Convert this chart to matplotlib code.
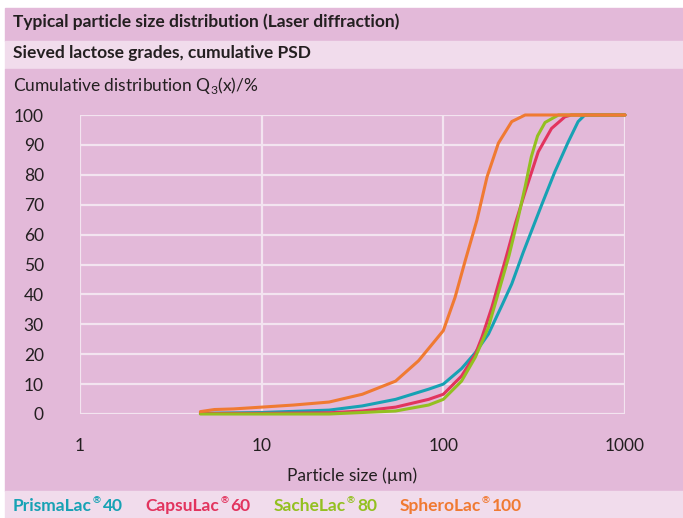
import matplotlib.pyplot as plt
from matplotlib.patches import Rectangle

plt.rcParams['font.family'] = ['Lato', 'DejaVu Sans']
plt.rcParams['mathtext.fontset'] = 'custom'
plt.rcParams['mathtext.rm'] = 'Lato'
plt.rcParams['mathtext.bf'] = 'Lato:bold'

# data (particle size in um, cumulative %)
prisma_x = [4.6, 10, 23.5, 35.8, 54.6, 83, 100, 126, 150, 177, 210, 238, 275, 347, 411, 487, 552, 601, 1000]
prisma_y = [0.2, 0.5, 1.3, 2.7, 4.9, 8.3, 10, 15.2, 20.5, 26.7, 36.3, 43.5, 54, 69.8, 81, 91, 97.8, 100, 100]

capsu_x = [4.6, 10, 23.5, 35.8, 54.6, 83, 100, 126, 150, 163, 185, 201, 219, 250, 282, 333, 394, 467, 506, 1000]
capsu_y = [0.2, 0.2, 0.4, 1.0, 2.3, 4.9, 6.6, 12.7, 20, 25.6, 35.7, 43.5, 51.3, 64, 74.3, 87.7, 95.5, 99.4, 100, 100]

sache_x = [4.6, 10, 23.5, 54.6, 83, 100, 126, 150, 177, 205, 230, 259, 282, 305, 330, 363, 430, 1000]
sache_y = [0, 0, 0, 1.0, 3, 4.9, 11, 19, 29, 42.4, 53, 66, 76, 86, 93, 97.5, 100, 100]

sphero_x = [4.6, 5.5, 7, 10, 15, 23.5, 35.8, 54.6, 73, 90, 100, 116, 132, 153, 174, 201, 238, 282, 1000]
sphero_y = [0.8, 1.5, 1.7, 2.3, 3, 4.0, 6.6, 11, 17.8, 24.5, 27.9, 39, 51.3, 64.8, 79.3, 90.6, 97.8, 100, 100]

names = ['PrismaLac', 'CapsuLac', 'SacheLac', 'SpheroLac']
grades = ['40', '60', '80', '100']
colors = ['#17a2b4', '#e2345e', '#93c020', '#f07a32']
series = [(prisma_x, prisma_y), (capsu_x, capsu_y), (sache_x, sache_y), (sphero_x, sphero_y)]

yticks = list(range(0, 101, 10))
xticks = [1, 10, 100, 1000]

W, H = 683, 518
fig = plt.figure(figsize=(W / 100, H / 100), dpi=100)
fig.patch.set_facecolor('white')

dark = '#e3b9d9'
light = '#f1dcec'
txt = '#231f20'


def band(y0, y1, c):
    fig.patches.append(Rectangle((5 / W, 1 - y1 / H), 1 - 5 / W, (y1 - y0) / H,
                                 transform=fig.transFigure, color=c, zorder=-5))


band(8, 41, dark)
band(41, 69, light)
band(69, 491, dark)
band(491, 518, light)

fig.text(13 / W, 1 - 22 / H, 'Typical particle size distribution (Laser diffraction)',
         fontsize=12.5, fontweight='bold', color=txt, va='center')
fig.text(13 / W, 1 - 53 / H, 'Sieved lactose grades, cumulative PSD',
         fontsize=12.5, fontweight='bold', color=txt, va='center')
fig.text(13 / W, 1 - 86 / H, r'Cumulative distribution Q$_3$(x)/%',
         fontsize=12.5, color=txt, va='center')

ax = fig.add_axes([80 / W, (H - 414) / H, 545 / W, 299 / H])
ax.set_zorder(2)
ax.set_facecolor(dark)
for s in ax.spines.values():
    s.set_visible(False)
ax.set_xscale('log')
ax.set_xlim(1, 1000)
ax.set_ylim(0, 100)
ax.set_xticks(xticks)
ax.set_xticklabels([str(v) for v in xticks])
ax.minorticks_off()
ax.set_yticks(yticks)
ax.tick_params(length=0, labelsize=12.5, labelcolor=txt)
ax.tick_params(axis='y', pad=26)
ax.tick_params(axis='x', pad=17)
ax.grid(True, color='#f3e4f0', lw=1.6)
ax.set_axisbelow(True)

for (x, y), c in zip(series, colors):
    ax.plot(x, y, color=c, lw=2.2, solid_capstyle='round', solid_joinstyle='round', clip_on=False)

ax.set_xlabel('Particle size (µm)', fontsize=12.5, color=txt, labelpad=10)

# legend row, pieces laid out one after another
fig.canvas.draw()
r = fig.canvas.get_renderer()
xpos = 13
for n, g, c in zip(names, grades, colors):
    t = fig.text(xpos / W, 1 - 506 / H, n, fontsize=12.5, fontweight='bold', color=c, va='center')
    xpos += t.get_window_extent(r).width + 1
    t = fig.text(xpos / W, 1 - 501 / H, '®', fontsize=7, fontweight='bold', color=c, va='center')
    xpos += t.get_window_extent(r).width + 2
    t = fig.text(xpos / W, 1 - 506 / H, g, fontsize=12.5, fontweight='bold', color=c, va='center')
    xpos += t.get_window_extent(r).width + 23

fig.savefig('out.png', dpi=100, facecolor='white')
